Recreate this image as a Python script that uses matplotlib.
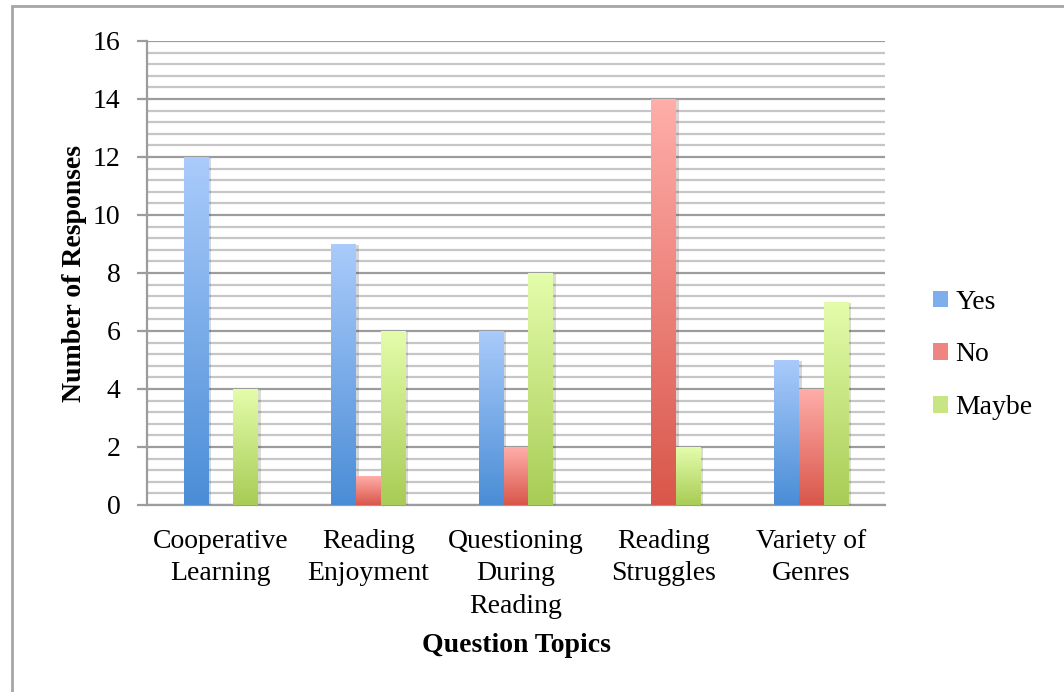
import numpy as np
import matplotlib
matplotlib.use("Agg")
import matplotlib.pyplot as plt
from matplotlib.colors import LinearSegmentedColormap
from matplotlib.patches import Rectangle, Patch
import matplotlib.patheffects as pe

plt.rcParams['font.family'] = ['Liberation Serif', 'DejaVu Serif']

topics = ["Cooperative\nLearning", "Reading\nEnjoyment", "Questioning\nDuring\nReading",
          "Reading\nStruggles", "Variety of\nGenres"]
yes = [12, 9, 6, 0, 5]
no = [0, 1, 2, 14, 4]
maybe = [4, 6, 8, 2, 7]

series = [("Yes", yes, "#aacbfb", "#4a8dd6"),
          ("No", no, "#ffaeaa", "#d9564a"),
          ("Maybe", maybe, "#e4fdac", "#a8cc55")]

fig = plt.figure(figsize=(10.64, 6.92), dpi=100)
ax = fig.add_axes([147 / 1064, 1 - 505 / 692, (885 - 147) / 1064, (505 - 41) / 692])

# outer frame of the chart
fig.patches.append(Rectangle((12 / 1064, -0.1), 1.2, 1 - 6 / 692 + 0.1,
                             transform=fig.transFigure, fill=False,
                             edgecolor="#a6a6a6", lw=2, zorder=0))

x = np.arange(len(topics))
w = 0.167

grad = np.linspace(1, 0, 256).reshape(-1, 1)
for i, (name, vals, top, bottom) in enumerate(series):
    bars = ax.bar(x + (i - 1) * w, vals, w, color=bottom, zorder=3,
                  path_effects=[pe.SimplePatchShadow(offset=(2, -1), alpha=0.18), pe.Normal()])
    cmap = LinearSegmentedColormap.from_list(name, [bottom, top])
    for b in bars:
        h = b.get_height()
        if h <= 0:
            continue
        x0 = b.get_x()
        im = ax.imshow(grad, cmap=cmap, aspect="auto", zorder=4,
                       extent=(x0, x0 + b.get_width(), 0, h), interpolation="bilinear")
        im.set_clip_path(b)

ax.set_xlim(-0.5, len(topics) - 0.5)
ax.set_ylim(0, 16)

ax.set_yticks(np.arange(0, 17, 2))
ax.set_yticks(np.arange(0, 16.01, 0.4), minor=True)
ax.grid(axis="y", which="major", color="#9c9c9c", lw=1.6, zorder=1)
ax.grid(axis="y", which="minor", color="#c6c6c6", lw=1.6, zorder=1)
ax.tick_params(axis="y", which="major", length=7, width=1.6, color="#9c9c9c",
               labelsize=20, pad=12)
ax.tick_params(axis="y", which="minor", length=0)
ax.set_xticks(x)
ax.set_xticklabels(topics, fontsize=20, linespacing=1.4)
ax.tick_params(axis="x", length=0, pad=17)

for s in ["top", "right"]:
    ax.spines[s].set_visible(False)
for s in ["left", "bottom"]:
    ax.spines[s].set_color("#9c9c9c")
    ax.spines[s].set_linewidth(1.6)

ax.set_ylabel("Number of Responses", fontsize=20, fontweight="bold", labelpad=4)
fig.text(516 / 1064, 1 - 645 / 692, "Question Topics", fontsize=20,
         fontweight="bold", ha="center", va="center")

handles = [Patch(facecolor=c, edgecolor="none")
           for c in ["#7eaeec", "#ee8580", "#c8e583"]]
fig.legend(handles, [s[0] for s in series], loc="center left",
           bbox_to_anchor=(908 / 1064, 1 - 355 / 692), frameon=False,
           fontsize=20, handlelength=0.55, handleheight=0.55,
           handletextpad=0.25, labelspacing=1.0)

fig.savefig("out.png", dpi=100)
